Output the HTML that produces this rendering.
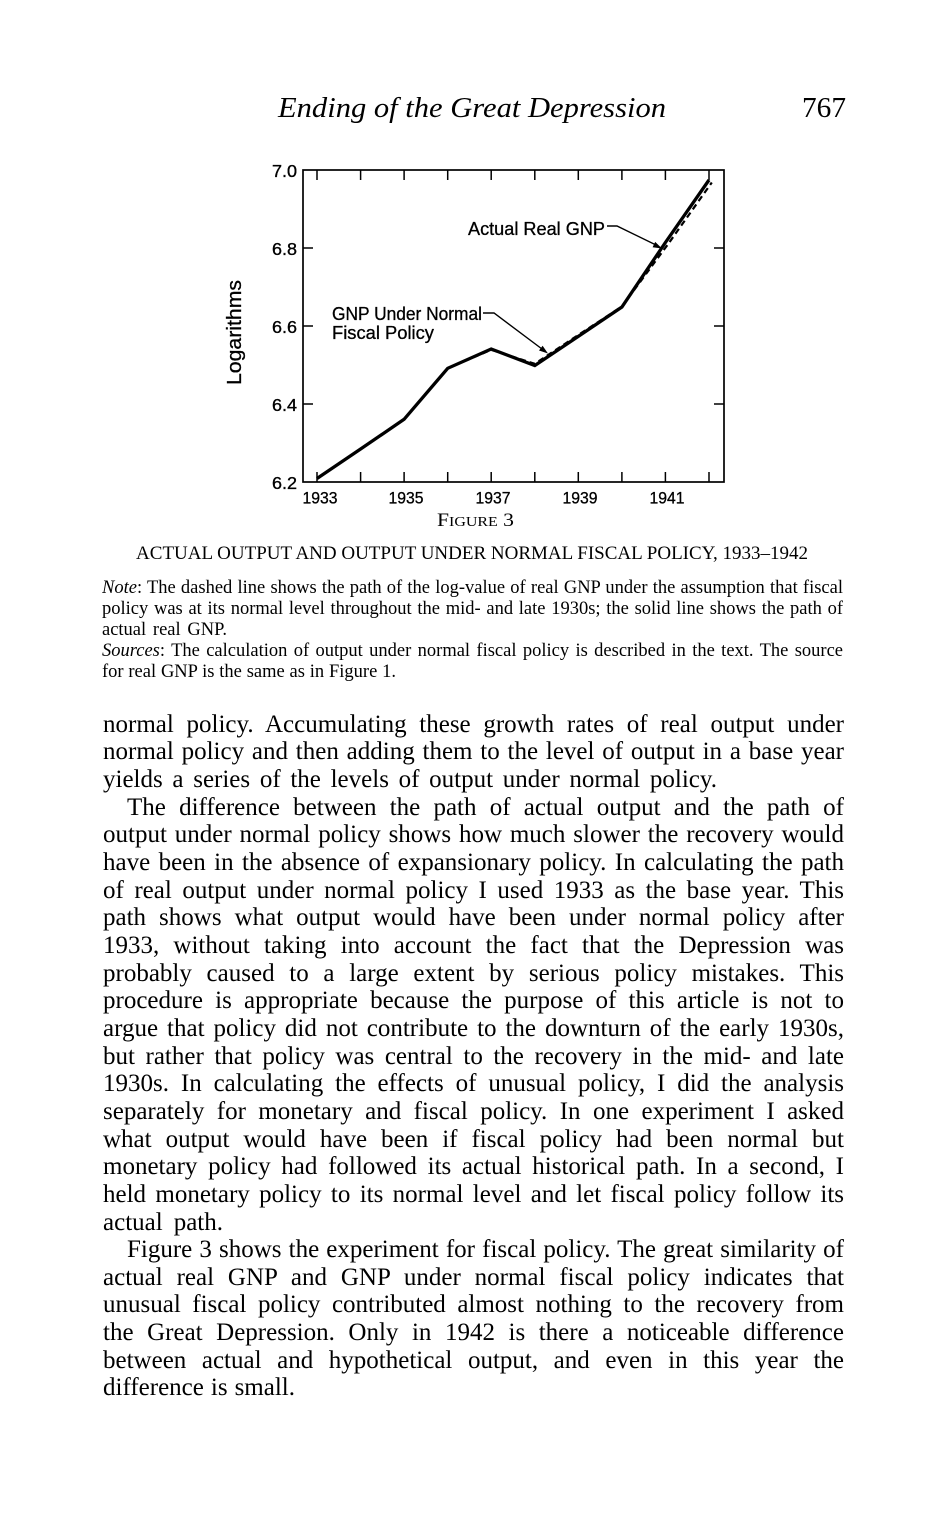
<!DOCTYPE html>
<html>
<head>
<meta charset="utf-8">
<style>
  html, body { margin: 0; padding: 0; background: #fff; }
  body { width: 950px; height: 1513px; position: relative; overflow: hidden; color: #000; }
  svg.chart { position: absolute; left: 0; top: 0; }
  .serif { font-family: "Liberation Serif", "Times New Roman", serif; }
  .blk { position: absolute; }
  .ln { display: block; text-align: justify; text-align-last: justify; white-space: normal; overflow: hidden; }
  .body .ln { font-size: 25px; line-height: 27.67px; height: 27.67px; word-spacing: -3px; }
  .note .ln { font-size: 18.5px; line-height: 21px; height: 21px; word-spacing: -2px; }
  .cap { font-size: 19px; line-height: 22px; text-align: center; white-space: nowrap; }
  i { font-style: italic; }
</style>
</head>
<body>

<svg class="chart" width="950" height="540" viewBox="0 0 950 540" xmlns="http://www.w3.org/2000/svg">
  <!-- Running header -->
  <text x="278" y="117" font-family="Liberation Serif, serif" font-style="italic" font-size="29" textLength="388" lengthAdjust="spacingAndGlyphs">Ending of the Great Depression</text>
  <text x="802" y="117" font-family="Liberation Serif, serif" font-size="29" textLength="44" lengthAdjust="spacingAndGlyphs">767</text>

  <!-- Frame -->
  <rect x="303" y="170" width="421" height="312" fill="none" stroke="#000" stroke-width="1.7"/>

  <!-- Top & bottom ticks -->
  <g stroke="#000" stroke-width="1.5">
    <line x1="317" y1="170" x2="317" y2="180"/>
    <line x1="360.6" y1="170" x2="360.6" y2="180"/>
    <line x1="404.1" y1="170" x2="404.1" y2="180"/>
    <line x1="447.7" y1="170" x2="447.7" y2="180"/>
    <line x1="491.2" y1="170" x2="491.2" y2="180"/>
    <line x1="534.8" y1="170" x2="534.8" y2="180"/>
    <line x1="578.3" y1="170" x2="578.3" y2="180"/>
    <line x1="621.9" y1="170" x2="621.9" y2="180"/>
    <line x1="665.4" y1="170" x2="665.4" y2="180"/>
    <line x1="709" y1="170" x2="709" y2="180"/>

    <line x1="317" y1="482" x2="317" y2="472"/>
    <line x1="360.6" y1="482" x2="360.6" y2="472"/>
    <line x1="404.1" y1="482" x2="404.1" y2="472"/>
    <line x1="447.7" y1="482" x2="447.7" y2="472"/>
    <line x1="491.2" y1="482" x2="491.2" y2="472"/>
    <line x1="534.8" y1="482" x2="534.8" y2="472"/>
    <line x1="578.3" y1="482" x2="578.3" y2="472"/>
    <line x1="621.9" y1="482" x2="621.9" y2="472"/>
    <line x1="665.4" y1="482" x2="665.4" y2="472"/>
    <line x1="709" y1="482" x2="709" y2="472"/>

    <!-- Left & right ticks -->
    <line x1="303" y1="248" x2="313" y2="248"/>
    <line x1="303" y1="326" x2="313" y2="326"/>
    <line x1="303" y1="404" x2="313" y2="404"/>
    <line x1="724" y1="248" x2="714" y2="248"/>
    <line x1="724" y1="326" x2="714" y2="326"/>
    <line x1="724" y1="404" x2="714" y2="404"/>
  </g>

  <!-- Y tick labels -->
  <g font-family="Liberation Sans, sans-serif" font-size="17.5" text-anchor="end" stroke="#000" stroke-width="0.35">
    <text x="297" y="177" textLength="25" lengthAdjust="spacingAndGlyphs">7.0</text>
    <text x="297" y="255" textLength="25" lengthAdjust="spacingAndGlyphs">6.8</text>
    <text x="297" y="333" textLength="25" lengthAdjust="spacingAndGlyphs">6.6</text>
    <text x="297" y="411" textLength="25" lengthAdjust="spacingAndGlyphs">6.4</text>
    <text x="297" y="489" textLength="25" lengthAdjust="spacingAndGlyphs">6.2</text>
  </g>

  <!-- X tick labels -->
  <g font-family="Liberation Sans, sans-serif" font-size="17" text-anchor="middle" stroke="#000" stroke-width="0.3">
    <text x="320" y="503.5" textLength="35" lengthAdjust="spacingAndGlyphs">1933</text>
    <text x="406" y="503.5" textLength="35" lengthAdjust="spacingAndGlyphs">1935</text>
    <text x="493" y="503.5" textLength="35" lengthAdjust="spacingAndGlyphs">1937</text>
    <text x="580" y="503.5" textLength="35" lengthAdjust="spacingAndGlyphs">1939</text>
    <text x="667" y="503.5" textLength="35" lengthAdjust="spacingAndGlyphs">1941</text>
  </g>

  <!-- Y axis title -->
  <text transform="translate(241,332.5) rotate(-90)" x="0" y="0" text-anchor="middle" font-family="Liberation Sans, sans-serif" font-size="20" stroke="#000" stroke-width="0.3" textLength="105" lengthAdjust="spacingAndGlyphs">Logarithms</text>

  <!-- Dashed series (GNP under normal fiscal policy) -->
  <polyline fill="none" stroke="#000" stroke-width="2.2" stroke-dasharray="6 4"
    points="317,478.5 360.6,449 404.1,419.3 447.7,368.3 491.2,349.8 534.8,363.8 578.3,335 621.9,306.5 667.8,244.5 711.8,182.5"/>

  <!-- Solid series (actual real GNP) -->
  <polyline fill="none" stroke="#000" stroke-width="3.3" stroke-linejoin="miter"
    points="317,478.5 360.6,449 404.1,419.3 447.7,368.3 491.2,349 534.8,365.5 578.3,336.4 621.9,307 665.4,242.5 709,180"/>

  <!-- Annotations -->
  <g font-family="Liberation Sans, sans-serif" font-size="18" stroke="#000" stroke-width="0.3">
    <text x="468" y="235" textLength="137" lengthAdjust="spacingAndGlyphs">Actual Real GNP</text>
    <text x="332" y="320" textLength="150" lengthAdjust="spacingAndGlyphs">GNP Under Normal</text>
    <text x="332" y="339" textLength="102" lengthAdjust="spacingAndGlyphs">Fiscal Policy</text>
  </g>
  <g stroke="#000" stroke-width="1.4" fill="none">
    <polyline points="607,226 617,226 656,245"/>
    <polyline points="483,313 494,313 542,349"/>
  </g>
  <g fill="#000">
    <polygon points="662,248.5 652.6,247.3 655.2,241.9"/>
    <polygon points="548,353.5 539,350.5 542.6,345.7"/>
  </g>

  <!-- Figure label -->
  <text x="475.5" y="526" text-anchor="middle" font-family="Liberation Serif, serif" textLength="77" lengthAdjust="spacingAndGlyphs"><tspan font-size="19">F</tspan><tspan font-size="14">IGURE</tspan><tspan font-size="19"> 3</tspan></text>
</svg>

<!-- Caption title -->
<div class="blk serif cap" style="left:103px; top:542.6px; width:738px;">ACTUAL OUTPUT AND OUTPUT UNDER NORMAL FISCAL POLICY, 1933–1942</div>

<!-- Note / Sources -->
<div class="blk serif note" style="left:102px; top:577.6px;">
  <div class="ln" style="width:741px;"><i>Note</i>: The dashed line shows the path of the log-value of real GNP under the assumption that fiscal</div>
  <div class="ln" style="width:741px;">policy was at its normal level throughout the mid- and late 1930s; the solid line shows the path of</div>
  <div class="ln" style="width:125px;">actual real GNP.</div>
  <div class="ln" style="width:741px;"><i>Sources</i>: The calculation of output under normal fiscal policy is described in the text. The source</div>
  <div class="ln" style="width:294px;">for real GNP is the same as in Figure 1.</div>
</div>

<!-- Body text -->
<div class="blk serif body" style="left:103px; top:710.7px;">
  <div class="ln" style="width:741px;">normal policy. Accumulating these growth rates of real output under</div>
  <div class="ln" style="width:741px;">normal policy and then adding them to the level of output in a base year</div>
  <div class="ln" style="width:614px;">yields a series of the levels of output under normal policy.</div>
  <div class="ln" style="width:717px; margin-left:24px;">The difference between the path of actual output and the path of</div>
  <div class="ln" style="width:741px;">output under normal policy shows how much slower the recovery would</div>
  <div class="ln" style="width:741px;">have been in the absence of expansionary policy. In calculating the path</div>
  <div class="ln" style="width:741px;">of real output under normal policy I used 1933 as the base year. This</div>
  <div class="ln" style="width:741px;">path shows what output would have been under normal policy after</div>
  <div class="ln" style="width:741px;">1933, without taking into account the fact that the Depression was</div>
  <div class="ln" style="width:741px;">probably caused to a large extent by serious policy mistakes. This</div>
  <div class="ln" style="width:741px;">procedure is appropriate because the purpose of this article is not to</div>
  <div class="ln" style="width:741px;">argue that policy did not contribute to the downturn of the early 1930s,</div>
  <div class="ln" style="width:741px;">but rather that policy was central to the recovery in the mid- and late</div>
  <div class="ln" style="width:741px;">1930s. In calculating the effects of unusual policy, I did the analysis</div>
  <div class="ln" style="width:741px;">separately for monetary and fiscal policy. In one experiment I asked</div>
  <div class="ln" style="width:741px;">what output would have been if fiscal policy had been normal but</div>
  <div class="ln" style="width:741px;">monetary policy had followed its actual historical path. In a second, I</div>
  <div class="ln" style="width:741px;">held monetary policy to its normal level and let fiscal policy follow its</div>
  <div class="ln" style="width:120px;">actual path.</div>
  <div class="ln" style="width:717px; margin-left:24px;">Figure 3 shows the experiment for fiscal policy. The great similarity of</div>
  <div class="ln" style="width:741px;">actual real GNP and GNP under normal fiscal policy indicates that</div>
  <div class="ln" style="width:741px;">unusual fiscal policy contributed almost nothing to the recovery from</div>
  <div class="ln" style="width:741px;">the Great Depression. Only in 1942 is there a noticeable difference</div>
  <div class="ln" style="width:741px;">between actual and hypothetical output, and even in this year the</div>
  <div class="ln" style="width:192px;">difference is small.</div>
</div>

</body>
</html>
